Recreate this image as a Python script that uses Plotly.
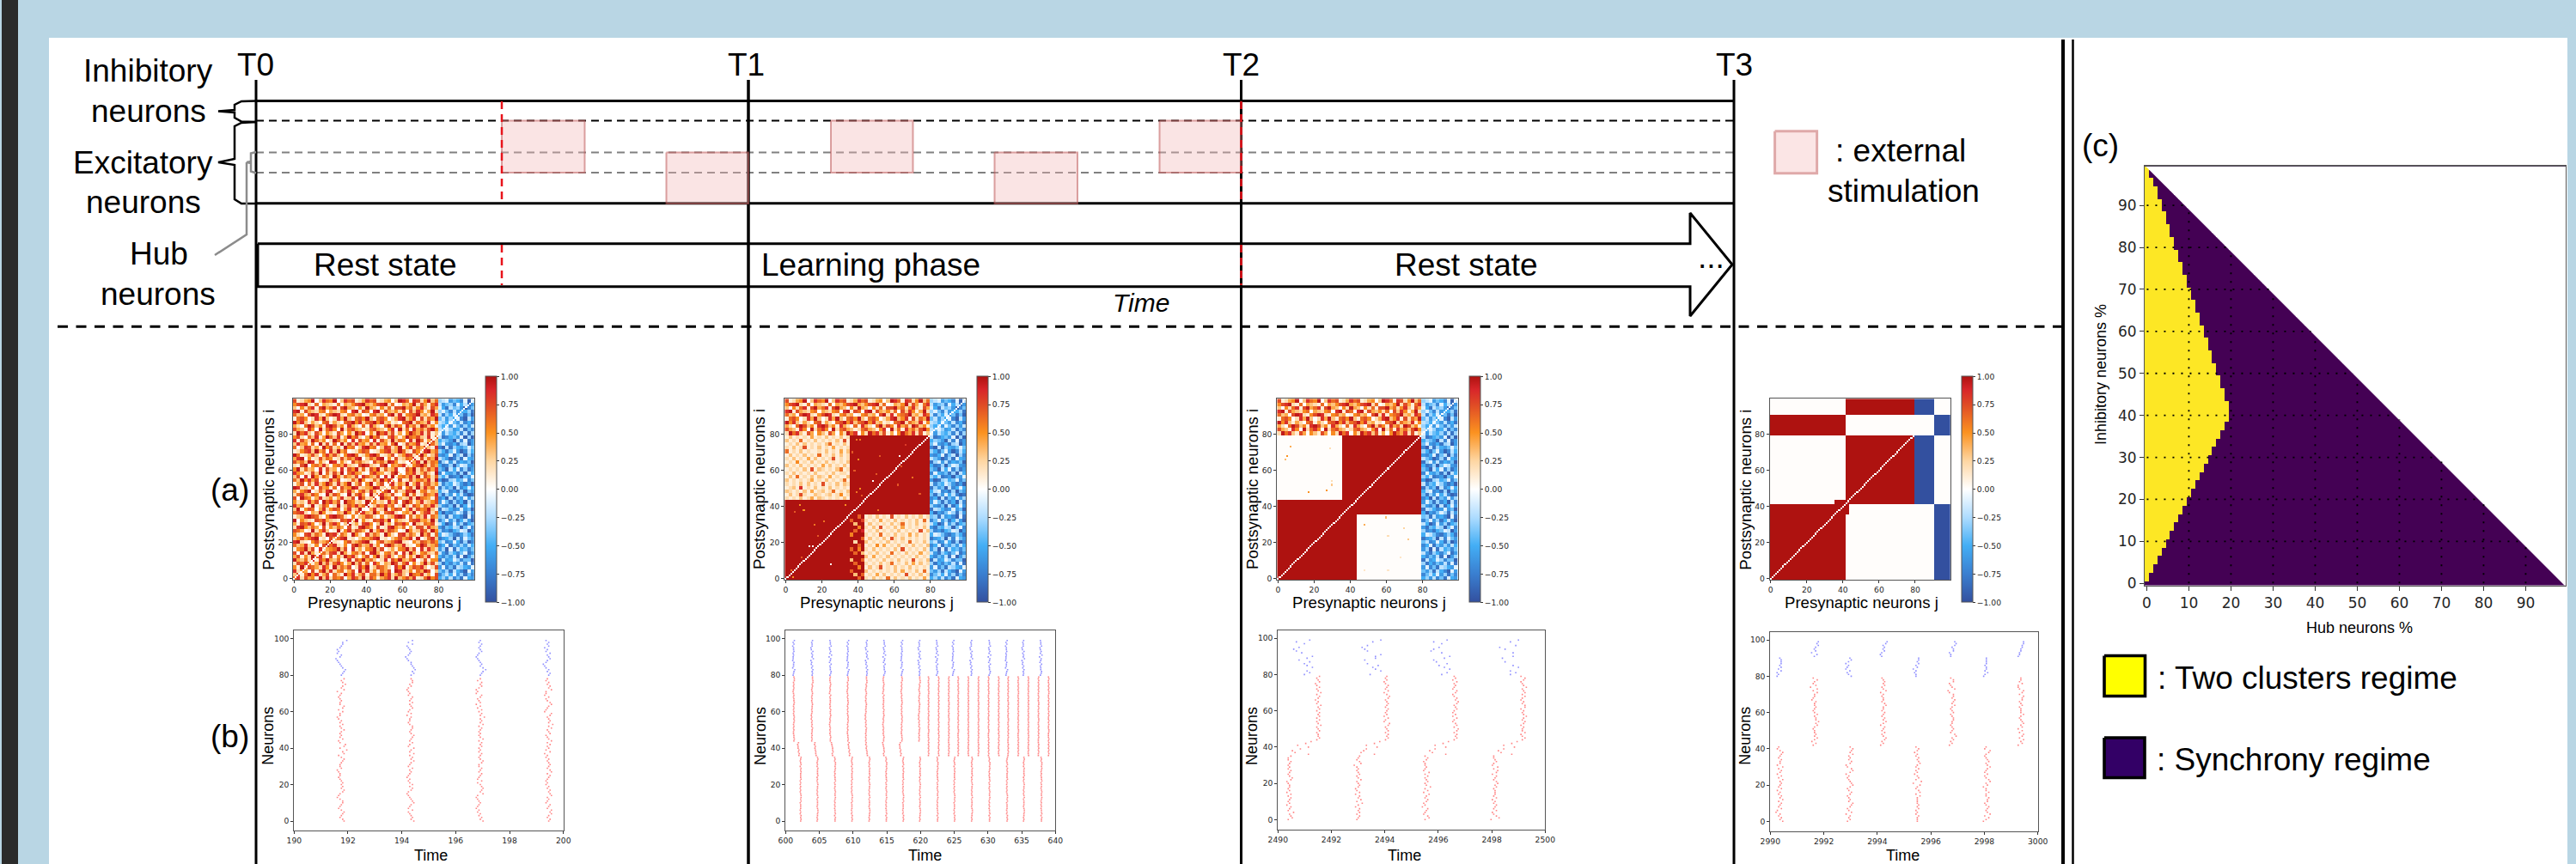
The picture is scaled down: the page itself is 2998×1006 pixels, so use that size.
import numpy as np
import plotly.graph_objects as go

W, H = 2998, 1006
BG_BLUE = "#b9d6e4"
TEXT_FONT = "Liberation Sans"
TICK_FONT = "DejaVu Sans"

# ---- schematic time marks ----
t_marks = ["T0", "T1", "T2", "T3"]
t_mark_x = [298, 871, 1444.5, 2018]
t_line_w = [3, 3.5, 3, 3]
stim_left = [584, 775.5, 967, 1157.5, 1349.5]
stim_right = [680.5, 871, 1062.5, 1254, 1444.5]
stim_top = [140.5, 177.5, 140.5, 177.5, 140.5]
stim_bottom = [201, 237, 201, 237, 201]
red_dash_x = [584, 1444.5]

# ---- correlation matrices ----
tick_20 = [0, 20, 40, 60, 80]
cbar_ticks = [-1, -0.75, -0.5, -0.25, 0, 0.25, 0.5, 0.75, 1]
heat_colors = [[0, "#33509f"], [0.125, "#3a7fd0"], [0.25, "#43aef5"], [0.375, "#aedcff"], [0.5, "#ffffff"],
               [0.625, "#fed6a2"], [0.75, "#fb9220"], [0.875, "#df4a26"], [0.94, "#d8262a"], [1, "#ae1210"]]

# Cell speckle below is a hand-typed visual estimate at 2-neuron resolution:
# the single cells of the reference are not individually legible.
ee_speckle = [
"6827451938265704863927514682935748126957", "3716958247063195824716639582473196582407",
"8254071693825614709382516470983251649703", "5193764285193647028591376420859147683027",
"2768514937268514937260851439726805149372", "9436281759436028175946302817594368027155",
"4715296830715296830471592683047152963804", "7082941563782941563708941563708294156326",
"1569370824569370824156937024156937082842", "6348215079682150796348250796348210597346",
"8921057346921057346892057346892105376475", "3574689120746891203546891203574681902683",
"5207836419783641952083641952078364194716", "7640192583019258376419258376401952386295",
"2895364071536407128964071289536041772843", "4176850392685039241785039241768509326571",
"9053217684321768490521768490532167845392", "1348976205897620513476205134897062538164",
"6782043951204395167843951678204539147826", "3915760482576048239104823915760482756931",
"8460291375029137584691375846029317526483", "5231847096847096523196523184707961482357",
"7096514823514823709623709651842382965417", "2684375109375109268409268437105926137548",
"4157902638902638415738415790623879156243", "9823160745160745982345982316470572938461",
"1470628359628359147059147068253914826735", "6395847012847012639512639584071273564829",
"3708195264195264370864370819256483917526", "8541273906273906854106854127930658247319",
"5926340817340817592617592634801759263748", "2179056483056483217983217905468315796264",
"7463981520981520746320746398512074829365", "4890512736512736489036489051723658172649",
"9612473058473058961258961247035872694137", "1257839460839460125760125783496217538946",
"6038724195724195603895603872491582647318", "3845160927160927384527384516902745812963",
"8174296350296350817450817429365082961473", "5720638149638149572049572068414965732816",
# rows 80-99 (the strip above the excitatory block)
"2968317405317405296805296837140596482713", "7431850926850926743126743158092618463795",
"4206973518973518420618420693751846297351", "9583142067142067958367958341206792643815",
"1675028493028493167593167502489358172649", "6340798215798215634015634079281567934286",
"8917432560432560891760891743526073851492", "3052681794681794305294305261779462583174",
"5789216043216043578943578926014359274168", "7124590386590386712486712450398618725936",
]
inh_speckle = [
"5362748156", "7425163847", "4638257916", "6174823561", "3857462718", "8265137449", "5746281963", "2683574186",
"6391825474", "7518463625", "4276158397", "8653927146", "5124786358", "3768541296", "6845239417", "2597163854",
"7416385269", "4382657918", "5967413826", "8235761649", "3674928516", "6148375927", "7592846163", "4836152798",
"5217683946", "8364927515", "2745136869", "6983254174", "3528769461", "7156483925", "4692517386", "5873941267",
"8316275649", "2469738156", "6751842937", "3584169725", "7928356414", "4167583296", "5346927186", "2875461939",
"1624537283", "2413652847", "3526147362", "2351462758", "4263517926", "2735164849", "3147265538", "1582436974",
"2643715286", "3216457192",
]
off_upper = [
"212131241321212131", "131272113212312512", "321213141231261213", "123181213121312121", "212131312171213132",
"312121241213121261", "131612131321412113", "213121213112131221", "121213171321213612", "312131212141312131",
"121512131213121213", "213121413121271212", "131213121612131312", "612131211213121413", "213127121312141212",
"121313121213612131", "312161213121213171", "131212141213121312",
]
off_lower = [
"213121613121312141", "121413121217121312", "312121213141213161", "131271213121312121", "212131261213141312",
"121213121312171213", "314121312121213121", "121312161213121412", "213121213171212131", "121514121312131213",
"312121312121612131", "131213172131212121", "212161213121413121", "121312121312121713", "213171213141212131",
"131212131261213121", "212141213121213161", "121312171213121312",
]
semi_col = ["9969", "9396", "6999", "9959", "9699", "3996", "9999", "9693", "6959", "9969", "9299", "9996", "5999", "9698", "9959", "9399", "6997", "9969"]
p2_specks_i = [77, 77, 70, 66, 60, 54, 50, 48, 46, 58, 74, 68, 41, 38, 30, 32, 26, 18, 18, 8, 5, 1, 37, 41, 12, 24, 68, 62, 56, 52, 47, 38]
p2_specks_j = [39, 41, 37, 40, 38, 48, 41, 39, 42, 50, 66, 63, 8, 10, 16, 21, 26, 13, 15, 25, 3, 4, 5, 33, 9, 18, 52, 64, 70, 62, 74, 51]
p2_specks_v = [0.6, 0.6, 0.7, 0.5, 0.7, 0.0, 0.5, 0.6, 0.7, 0.7, 0.8, 0.0, 0.5, 0.5, 0.6, 0.6, 0.7, 0.0, 0.0, 0.0, 0.6, 0.5, 0.7, 0.5, 0.7, 0.7, 0.7, 0.7, 0.6, 0.7, 0.7, 0.6]
p3_specks_i = [68, 73, 66, 48, 49, 52, 54, 72, 30, 34, 28, 22, 24, 12, 5, 5]
p3_specks_j = [5, 7, 4, 17, 27, 30, 30, 29, 48, 60, 70, 72, 61, 68, 48, 61]
p3_specks_v = [0.5, 0.4, 0.35, 0.5, 0.5, 0.3, 0.2, 0.2, 0.4, 0.35, 0.25, 0.3, 0.2, 0.15, 0.15, 0.15]

# ---- raster bursts: (centre time, first neuron, time per digit step, one digit per neuron; '.' = no spike) ----
r1_bursts_e = [
 (191.73, 0, 0.05, "7645675345664234675656543443254456753769478436454575464532446367445434527568657"),
 (194.32, 0, 0.05, "7565436345765432356464342345463457564745734645675456643445253465464563432354665"),
 (196.89, 0, 0.05, "7564534234543237567653634564564467545645465647545456475658564635254356232465635"),
 (199.43, 0, 0.05, "5645767456345476564534345647645654534263546475436547585654672345764352337564534"),
]
r1_bursts_i = [
 (191.73, 80, 0.05, "56786543214523245669"),
 (194.32, 80, 0.05, "57687655321345432636"),
 (196.89, 80, 0.05, "56797565432346545645"),
 (199.43, 80, 0.05, "56453213465463425453"),
]
r2_a_centres = [602.2, 604.7, 607.3, 609.8, 612.4, 614.9, 617.4, 619.9, 622.5, 625.0, 627.6, 630.2, 632.8, 635.3, 637.9]
r2_ae_centres = [602.0, 604.5, 607.0, 609.5, 612.1, 614.6, 617.1]
r2_b_centres = [601.2, 603.9, 606.6, 609.2, 611.9, 614.5, 617.2, 619.8]
r2_b_long_centres = [621.2, 622.7, 624.2, 625.6, 627.1, 628.6, 630.1, 631.6, 633.0, 634.5, 636.0, 637.5, 639.0]
r2_i_centres = [601.15, 603.9, 606.6, 609.2, 612.0, 614.6, 617.2, 619.8, 622.4, 624.8, 627.5, 630.2, 632.7, 635.2, 637.8]
r2_a_patterns = ["565645455546566545454546555656465456", "454556654555465454556545465556454565", "556465545454565565455465545456566454"]
r2_ae_patterns = ["45342213", "54432312", "43544321"]
r2_b_patterns = ["565544545456565454545655454345454665", "454545564545343454556545456545657766", "556545454345456556454555463454565445"]
r2_b_long_patterns = ["45454545454445544545445454454545445545454454", "54454454545545445454454544545454544544545454", "44545454445454545445544544545544544545454545"]
r2_i_patterns = ["45683556344546553647", "56574634285647325546", "46755473562846437554"]
r3_a = [
 (2490.41, 0, 0.05, "476584563545646354554367545645456446"),
 (2492.98, 0, 0.05, "456465635847563643565475465454276456"),
 (2495.53, 0, 0.05, "476345624356457364854654647345443564"),
 (2498.10, 0, 0.05, "286436456453645554657645636747346544"),
]
r3_b = [
 (2490.89, 36, 0.1, "72147368"), (2493.46, 36, 0.1, "61237368"), (2496.03, 36, 0.1, "72137368"), (2498.60, 36, 0.1, "62137368"),
]
r3_c = [
 (2491.48, 44, 0.05, "465546547546465646574535647546436546"),
 (2494.05, 44, 0.05, "465646546734635456456546753645643545"),
 (2496.62, 44, 0.05, "465646746534635346546756435634546354"),
 (2499.17, 44, 0.05, "464364453564575453664534646547543563"),
]
r3_d = [
 (2490.94, 80, 0.1, "576.8657368.4213.527"), (2493.50, 80, 0.1, "4.86573.2668.3213.58"),
 (2496.08, 80, 0.1, "57.86473268.5124.527"), (2498.65, 80, 0.1, "575.86.3.26.6.317.58"),
]
r4_a = [
 (2990.34, 0, 0.05, "756452364564756453645657463564735564567534"),
 (2992.91, 0, 0.05, "465637546785654675468765453687436756586786"),
 (2995.47, 0, 0.05, "555645465655557476457284653546457656453564"),
 (2998.04, 0, 0.05, "357486567546675575536587546456865765457845"),
]
r4_b = [
 (2991.63, 42, 0.05, "46357565545768665754565563455747264574"),
 (2994.20, 42, 0.05, "35467546456357564564557645545375465654"),
 (2996.77, 42, 0.05, "35465874565455665465457567566327543664"),
 (2999.34, 42, 0.05, "36574674636576545755546546674674336455"),
]
r4_c = [(2990.33, 80, 0.05, "34364656665"), (2992.90, 80, 0.05, "75463453576"), (2995.47, 80, 0.05, "44342546566"), (2998.05, 80, 0.05, "34645545555")]
r4_d = [(2991.62, 91, 0.05, "573656878"), (2994.19, 91, 0.05, "434656578"), (2996.77, 91, 0.05, "443665787"), (2999.34, 91, 0.05, "344556677")]

# ---- regime map: number of yellow cells in each inhibitory % row, and cells filled in the row ----
yellow_cols = [0, 1, 1, 2, 2, 3, 3, 4, 4, 5, 5, 6, 6, 7, 7, 8, 8, 9, 9, 10, 10, 11, 11, 12, 12, 13, 13, 14, 14, 15,
               15, 16, 16, 17, 17, 18, 18, 19, 19, 20, 20, 20, 20, 20, 19, 19, 19, 18, 18, 18, 17, 17, 17, 16, 16, 16,
               15, 15, 15, 14, 14, 14, 13, 13, 13, 12, 12, 12, 11, 11, 11, 10, 10, 10, 9, 9, 9, 8, 8, 8, 7, 7, 7,
               6, 6, 6, 5, 5, 5, 4, 4, 4, 3, 3, 3, 2, 2, 1, 1, 1]
row_cells = [100, 99, 98, 97, 96, 95, 94, 93, 92, 91, 90, 89, 88, 87, 86, 85, 84, 83, 82, 81, 80, 79, 78, 77, 76, 75, 74, 73, 72, 71,
             70, 69, 68, 67, 66, 65, 64, 63, 62, 61, 60, 59, 58, 57, 56, 55, 54, 53, 52, 51, 50, 49, 48, 47, 46, 45, 44, 43, 42, 41,
             40, 39, 38, 37, 36, 35, 34, 33, 32, 31, 30, 29, 28, 27, 26, 25, 24, 23, 22, 21, 20, 19, 18, 17, 16, 15, 14, 13, 12, 11,
             10, 9, 8, 7, 6, 5, 4, 3, 2, 1]
empty_corner_x = [-0.5, 0.1, 99.3, 99.5, 99.5, -0.5]
empty_corner_y = [99.5, 99.0, -0.5, -0.5, 99.5, 99.5]
c_ticks = [0, 10, 20, 30, 40, 50, 60, 70, 80, 90]
c_grid_ticks = [10, 20, 30, 40, 50, 60, 70, 80, 90]
c_grid_end = [89, 79, 69, 59, 49, 39, 29, 19, 9]


def digits(rows):
    return np.array([[int(c) for c in r] for r in rows], dtype=float)


def up2(a):
    return np.repeat(np.repeat(a, 2, axis=0), 2, axis=1)


EE = up2(digits(ee_speckle)) / 9 * 0.95
INH = -up2(digits(inh_speckle)) / 10
OFFU = up2(digits(off_upper)) / 9 * 0.95
OFFL = up2(digits(off_lower)) / 9 * 0.95
SEMI = up2(digits(semi_col)) / 9

z1 = np.zeros((100, 100))
z1[:, :80] = EE
z1[:, 80:] = INH

z2 = z1.copy()
z2[:80, :80] = 1.0
z2[44:80, :36] = OFFU
z2[:36, 44:80] = OFFL
z2[:36, 36:44] = SEMI
for i, j, v in zip(p2_specks_i, p2_specks_j, p2_specks_v):
    z2[i, j] = v

z3 = z1.copy()
z3[:80, :80] = 1.0
z3[44:80, :36] = 0.012
z3[:36, 44:80] = 0.012
for i, j, v in zip(p3_specks_i, p3_specks_j, p3_specks_v):
    z3[i, j] = v

z4 = np.full((100, 100), 0.012)
z4[91:, 42:80] = 1.0
z4[91:, 80:91] = -1.0
z4[80:91, :42] = 1.0
z4[80:91, 91:] = -1.0
z4[42:80, 42:80] = 1.0
z4[42:80, 80:91] = -1.0
z4[:42, :42] = 1.0
z4[:42, 91:] = -1.0
z4[42:44, 36:42] = 1.0
z4[36:42, 42:44] = 1.0

for z in (z1, z2, z3):
    z[np.arange(100), np.arange(100)] = 0.0
z4[np.arange(80), np.arange(80)] = 0.0

zc = np.full((100, 100), np.nan)
for i in range(100):
    zc[i, :row_cells[i]] = 0
    zc[i, :yellow_cols[i]] = 1


def raster_xy(bursts):
    xs, ys = [], []
    for centre, first, step, s in bursts:
        for k, ch in enumerate(s):
            if ch != ".":
                xs.append(centre + (int(ch) - 4.5) * step)
                ys.append(first + k)
    return xs, ys


r2_red = []
for k, c in enumerate(r2_a_centres):
    r2_red.append((c, 0, 0.06, r2_a_patterns[k % 3]))
for k, c in enumerate(r2_ae_centres):
    r2_red.append((c, 36, 0.06, r2_ae_patterns[k % 3]))
for k, c in enumerate(r2_b_centres):
    r2_red.append((c, 44, 0.06, r2_b_patterns[k % 3]))
for k, c in enumerate(r2_b_long_centres):
    r2_red.append((c, 36, 0.06, r2_b_long_patterns[k % 3]))
r2_blue = [(c, 80, 0.06, r2_i_patterns[k % 3]) for k, c in enumerate(r2_i_centres)]

fig = go.Figure()
layout_axes = {}
annotations = []


def dom_x(a, b):
    return [a / W, b / W]


def dom_y(top, bottom):
    return [1 - bottom / H, 1 - top / H]


layout_axes["xaxis"] = dict(domain=[0, 1], range=[0, W], visible=False, fixedrange=True)
layout_axes["yaxis"] = dict(domain=[0, 1], range=[H, 0], visible=False, fixedrange=True)


def canvas_line(xs, ys, color="black", width=3, dash="solid", fill=None, fillcolor=None):
    fig.add_trace(go.Scatter(x=xs, y=ys, mode="lines", line=dict(color=color, width=width, dash=dash),
                             fill=fill, fillcolor=fillcolor, hoverinfo="skip", xaxis="x", yaxis="y", showlegend=False))


def label(x, baseline, text, size=37, anchor="center", italic=False):
    annotations.append(dict(x=x, y=baseline - 0.33 * size, xref="x", yref="y", text=f"<i>{text}</i>" if italic else text,
                            showarrow=False, xanchor=anchor, yanchor="middle", borderpad=0,
                            font=dict(family=TEXT_FONT, size=size, color="black")))


def rot_label(x, y, text, size=18.6):
    annotations.append(dict(x=x, y=y, xref="x", yref="y", text=text, textangle=-90, showarrow=False,
                            xanchor="center", yanchor="middle", borderpad=0,
                            font=dict(family=TEXT_FONT, size=size, color="black")))


# schematic frame lines
canvas_line([298, 2018], [117.5, 117.5], width=3)
canvas_line([298, 2018], [236.7, 236.7], width=3)
canvas_line([298, 2018], [140.5, 140.5], width=2, dash="9px,6px")
canvas_line([298, 2018], [177.5, 177.5], color="#808080", width=2, dash="9px,6px")
canvas_line([298, 2018], [201, 201], color="#808080", width=2, dash="9px,6px")
# arrow
canvas_line([300, 1967, 1967, 2016, 1967, 1967, 300, 300], [283.7, 283.7, 248, 308, 368, 333.7, 333.7, 283.7], width=3)
# time lines
for x, w_ in zip(t_mark_x, t_line_w):
    canvas_line([x, x], [93, H], width=w_)
# horizontal separator
canvas_line([67, 2400], [380.3, 380.3], width=3, dash="12px,9.5px")
# stimulation boxes
for a, b, t, u in zip(stim_left, stim_right, stim_top, stim_bottom):
    canvas_line([a, b, b, a, a], [t, t, u, u, t], color="rgba(190,90,90,0.55)", width=2, fill="toself",
                fillcolor="rgba(240,180,180,0.36)")
canvas_line([2065.6, 2114.6, 2114.6, 2065.6, 2065.6], [152.7, 152.7, 201.7, 201.7, 152.7], color="#dfa9a9", width=3,
            fill="toself", fillcolor="#fbe5e5")
# red dashes
for x in red_dash_x:
    canvas_line([x, x], [118, 236], color="#e8131b", width=2.5, dash="9px,6px")
    canvas_line([x, x], [285, 332], color="#e8131b", width=2.5, dash="9px,6px")
# braces
canvas_line([298, 281, 273, 273, 254, 273, 273, 281, 298], [117.5, 118, 122, 128, 129.5, 131, 137, 141.5, 142], width=2.5)
canvas_line([298, 281, 273, 273, 254, 273, 273, 281, 298], [142, 143, 147, 185, 189, 192, 232, 237, 237], width=2.5)
canvas_line([298, 292, 292, 287, 292, 292, 298], [177, 178.5, 188, 189, 190, 199.5, 201.5], color="#8c8c8c", width=2.5)
canvas_line([287, 287, 250], [189, 273, 297], color="#8c8c8c", width=2.5)
# double divider
canvas_line([2401, 2401], [46, H], width=4)
canvas_line([2412.5, 2412.5], [46, H], width=2.5)
# regime legend
canvas_line([2449, 2496.5, 2496.5, 2449, 2449], [763.5, 763.5, 810.5, 810.5, 763.5], width=3.6, fill="toself", fillcolor="#ffff00")
canvas_line([2449, 2496, 2496, 2449, 2449], [859, 859, 905.5, 905.5, 859], width=3.6, fill="toself", fillcolor="#330066")

# texts
for s, x in zip(t_marks, [297, 868.6, 1444.5, 2018]):
    label(x, 88, s)
label(172, 95, "Inhibitory")
label(172.5, 141.7, "neurons")
label(166, 201.7, "Excitatory")
label(167, 248, "neurons")
label(185, 308, "Hub")
label(184, 355, "neurons")
label(448, 320.7, "Rest state")
label(1013, 320.7, "Learning phase")
label(1706, 320.7, "Rest state")
label(1328, 362.7, "Time", size=30, italic=True)
label(1991, 312, "...")
label(2135, 188, ": external", anchor="left")
label(2215, 235, "stimulation")
label(2444.7, 182, "(c)")
label(267.7, 583, "(a)")
label(267.7, 870, "(b)")
label(2509.8, 801.7, ": Two clusters regime", anchor="left")
label(2508.7, 896.7, ": Synchrony regime", anchor="left")

axis_common = dict(showgrid=False, zeroline=False, showline=True, linecolor="#555555", linewidth=1, mirror=True,
                   ticks="outside", ticklen=3, tickwidth=1, tickcolor="#333333",
                   tickfont=dict(family=TICK_FONT, size=9.2, color="#262626"), fixedrange=True)

heat_boxes = [(341, 551.7), (913.3, 1124), (1486.3, 1696.7), (2059.7, 2270)]
cbar_lefts = [564.7, 1137, 1709.7, 2283.3]
ylab_x = [311.7, 883, 1457, 2030.7]
heat_z = [z1, z2, z3, z4]
ax = 2
for (a, b), cb, yl, z in zip(heat_boxes, cbar_lefts, ylab_x, heat_z):
    xn, yn = f"x{ax}", f"y{ax}"
    layout_axes[f"xaxis{ax}"] = dict(domain=dom_x(a, b), range=[-0.5, 99.5], tickvals=tick_20, anchor=yn, **axis_common)
    layout_axes[f"yaxis{ax}"] = dict(domain=dom_y(464.3, 675), range=[-0.5, 99.5], tickvals=tick_20, anchor=xn, **axis_common)
    fig.add_trace(go.Heatmap(z=z, x=np.arange(100), y=np.arange(100), zmin=-1, zmax=1, colorscale=heat_colors, zsmooth=False,
                             xaxis=xn, yaxis=yn, hoverinfo="skip",
                             colorbar=dict(x=cb / W, xanchor="left", y=1 - 438.3 / H, yanchor="top", lenmode="pixels", len=263.4,
                                           thicknessmode="pixels", thickness=13, xpad=0, ypad=0, outlinecolor="#555555", outlinewidth=1,
                                           ticks="outside", ticklen=3, tickwidth=1, tickcolor="#333333", tickvals=cbar_ticks, tickformat=".2f",
                                           tickfont=dict(family=TICK_FONT, size=9.2, color="#262626"))))
    rot_label(yl, 570, "Postsynaptic neurons i")
    label((a + b) / 2 + 1.5, 708, "Presynaptic neurons j", size=18.6)
    ax += 1

raster_boxes = [(342.3, 655.7, 733.7, 967.3, [190, 200], [-5.3, 104.7], [190, 192, 194, 196, 198, 200]),
                (914.3, 1228.3, 733.7, 967.3, [600, 640], [-5.3, 104.7], [600, 605, 610, 615, 620, 625, 630, 635, 640]),
                (1487.3, 1798.3, 733.7, 965.7, [2490, 2500], [-5.4, 104.5], [2490, 2492, 2494, 2496, 2498, 2500]),
                (2060.3, 2371.7, 735.7, 967.7, [2990, 3000], [-5.4, 104.5], [2990, 2992, 2994, 2996, 2998, 3000])]
raster_red = [r1_bursts_e, r2_red, r3_a + r3_b + r3_c, r4_a + r4_b]
raster_blue = [r1_bursts_i, r2_blue, r3_d, r4_c + r4_d]
time_x = [501, 1076, 1634, 2214.7]
neur_x = [311.7, 885, 1457, 2030.7]
y_tick_100 = [0, 20, 40, 60, 80, 100]
for box, red, blue, tx, nx in zip(raster_boxes, raster_red, raster_blue, time_x, neur_x):
    a, b, t, u, xr, yr, xt = box
    xn, yn = f"x{ax}", f"y{ax}"
    layout_axes[f"xaxis{ax}"] = dict(domain=dom_x(a, b), range=xr, tickvals=xt, anchor=yn, **axis_common)
    layout_axes[f"yaxis{ax}"] = dict(domain=dom_y(t, u), range=yr, tickvals=y_tick_100, anchor=xn, **axis_common)
    for bursts, col in ((red, "rgba(255,30,30,0.55)"), (blue, "rgba(30,30,255,0.5)")):
        xs, ys = raster_xy(bursts)
        fig.add_trace(go.Scatter(x=xs, y=ys, mode="markers", marker=dict(symbol="square", size=1.6, color=col, line=dict(width=0)),
                                 xaxis=xn, yaxis=yn, hoverinfo="skip", showlegend=False))
    rot_label(nx, 857, "Neurons", size=18)
    label(tx, 1002, "Time", size=18)
    ax += 1

# regime map
xn, yn = f"x{ax}", f"y{ax}"
c_axis = dict(axis_common)
c_axis.update(ticklen=5, tickfont=dict(family=TICK_FONT, size=17, color="#262626"))
layout_axes[f"xaxis{ax}"] = dict(domain=dom_x(2496, 2986), range=[-0.5, 99.5], tickvals=c_ticks, anchor=yn, **c_axis)
layout_axes[f"yaxis{ax}"] = dict(domain=dom_y(192.7, 681.7), range=[-0.5, 99.5], tickvals=c_ticks, anchor=xn, **c_axis)
fig.add_trace(go.Heatmap(z=zc, x=np.arange(100), y=np.arange(100), zmin=0, zmax=1, showscale=False, zsmooth=False,
                         colorscale=[[0, "#440154"], [1, "#fde725"]], xaxis=xn, yaxis=yn, hoverinfo="skip"))
# the empty corner has a clean slanted edge in the reference
fig.add_trace(go.Scatter(x=empty_corner_x, y=empty_corner_y, mode="lines", fill="toself", fillcolor="white",
                         line=dict(color="white", width=0.5), xaxis=xn, yaxis=yn, hoverinfo="skip", showlegend=False))
gx, gy = [], []
for tick, end in zip(c_grid_ticks, c_grid_end):
    gx += [0, end, None, tick, tick, None]
    gy += [tick, tick, None, 0, end, None]
fig.add_trace(go.Scatter(x=gx, y=gy, mode="lines", line=dict(color="black", width=1.8, dash="2px,8px"), xaxis=xn, yaxis=yn,
                         hoverinfo="skip", showlegend=False))
fig.add_trace(go.Scatter(x=[-0.5, 99.5], y=[99.5, 99.5], mode="lines", line=dict(color="#1c0c28", width=2.2), cliponaxis=False,
                         xaxis=xn, yaxis=yn, hoverinfo="skip", showlegend=False))
label(2745.5, 737, "Hub neurons %", size=18)
rot_label(2445, 436, "Inhibitory neurons %", size=18)

fig.update_layout(
    width=W, height=H, margin=dict(l=0, r=0, t=0, b=0, pad=0, autoexpand=False),
    paper_bgcolor=BG_BLUE, plot_bgcolor="rgba(0,0,0,0)", showlegend=False, annotations=annotations,
    shapes=[
        dict(type="rect", xref="x", yref="y", x0=57, x1=2988, y0=44, y1=H, fillcolor="white", line=dict(width=0), layer="below"),
        dict(type="rect", xref="x", yref="y", x0=2, x1=21, y0=0, y1=H, fillcolor="#2b2b2b", line=dict(width=0), layer="below"),
    ],
    **layout_axes,
)
fig.write_html("out.html", config={"displayModeBar": False},
               post_script="document.body.style.margin='0';document.documentElement.style.overflow='hidden';")
